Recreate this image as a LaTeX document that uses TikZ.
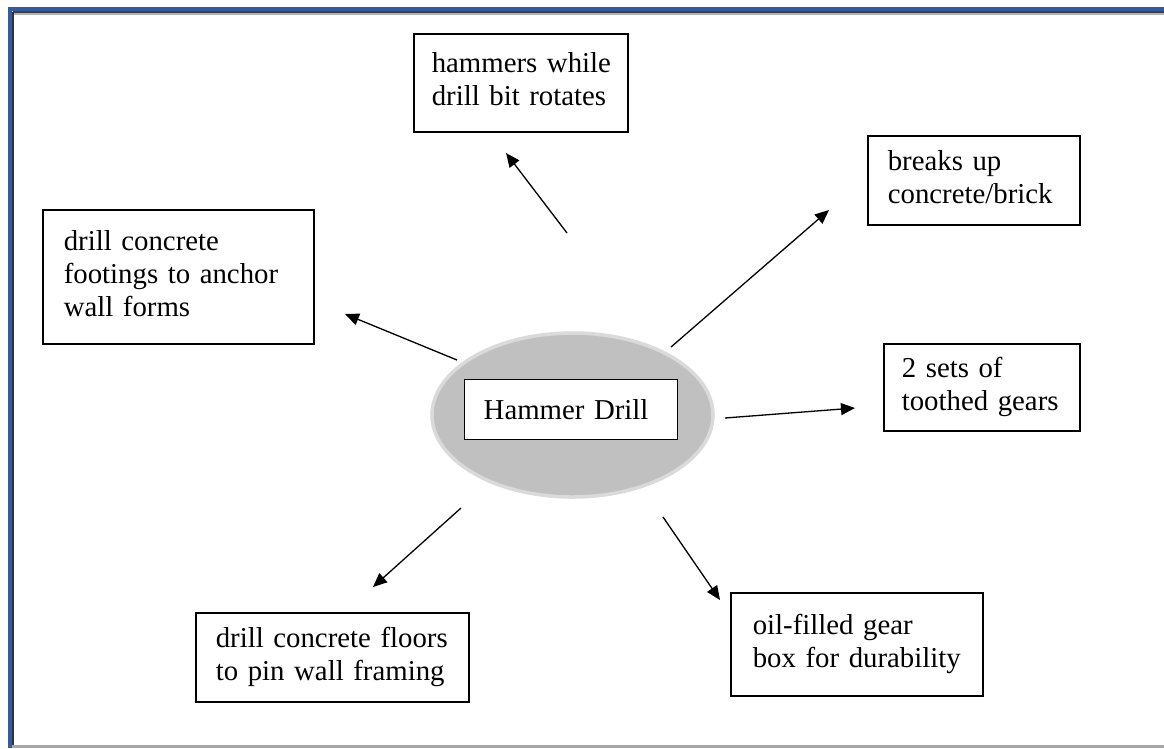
\documentclass[tikz,border=0pt]{standalone}
\usepackage{fontspec}
\setmainfont{Liberation Serif}
\usetikzlibrary{arrows.meta,shapes.geometric}
\definecolor{frameblue}{RGB}{54,90,160}
\definecolor{ellfill}{RGB}{192,192,192}
\definecolor{elledge}{RGB}{218,218,218}
\newcommand{\boxlines}[1]{\begin{tabular}{@{}l@{}}#1\end{tabular}}
\tikzset{
  txt/.style={font=\fontsize{28.8}{33}\selectfont},
  infobox/.style={draw=black, line width=1.6pt, rectangle, anchor=north west, align=left, inner ysep=0pt, txt},
  arr/.style={line width=1.3pt, -{Triangle[length=14pt,width=12pt]}}
}
\begin{document}
\begin{tikzpicture}[x=1pt,y=-1pt]
\useasboundingbox (0,0) rectangle (1164,748);
\fill[white] (0,0) rectangle (1164,748);
% frame
\draw[gray!60, line width=2pt] (13,14) -- (1164,14);
\draw[black!75, line width=2pt] (12.5,12) -- (1164,12);
\draw[black!80, line width=2pt] (12.5,12) -- (12.5,748);
\draw[frameblue, line width=4pt] (9.5,8.5) -- (1164,8.5);
\draw[frameblue, line width=4pt] (9.5,6.5) -- (9.5,748);
\draw[gray!70, line width=3pt] (12,746.5) -- (1164,746.5);
% central ellipse
\node[ellipse, fill=ellfill, draw=elledge, line width=3.5pt, minimum width=281pt, minimum height=164pt, inner sep=0pt] (ell) at (572.5,415) {};
\node[draw=black, fill=white, line width=1.4pt, anchor=north west, minimum width=213pt, minimum height=60pt, text width=175pt, inner xsep=19pt, inner ysep=0pt, align=left, txt] (hd) at (464,379) {Hammer Drill};
% boxes
\node[infobox, minimum height=98pt, text width=178pt, inner xsep=18pt] (top) at (413,33) {\boxlines{hammers while\\drill bit rotates}};
\node[infobox, minimum height=89pt, text width=172pt, inner xsep=20pt] (brk) at (867,135) {\boxlines{breaks up\\concrete/brick}};
\node[infobox, minimum height=134pt, text width=229pt, inner xsep=21pt] (ftg) at (42,209) {\boxlines{drill concrete\\footings to anchor\\wall forms}};
\node[infobox, minimum height=87pt, text width=160pt, inner xsep=18pt] (gear) at (883,343) {\boxlines{2 sets of\\toothed gears}};
\node[infobox, minimum height=89pt, text width=233pt, inner xsep=20pt] (flr) at (195,612) {\boxlines{drill concrete floors\\to pin wall framing}};
\node[infobox, minimum height=103pt, text width=208pt, inner xsep=22pt] (oil) at (730,592) {\boxlines{oil-filled gear\\box for durability}};
% arrow ends
\coordinate (s1) at (567,233); \coordinate (e1) at (506,153);
\coordinate (s2) at (671,347); \coordinate (e2) at (829,210);
\coordinate (s3) at (457,360); \coordinate (e3) at (345,314);
\coordinate (s4) at (725,418); \coordinate (e4) at (855,408);
\coordinate (s5) at (461,508); \coordinate (e5) at (373,587);
\coordinate (s6) at (663,517); \coordinate (e6) at (720,600);
\draw[arr] (s1) -- (e1);
\draw[arr] (s2) -- (e2);
\draw[arr] (s3) -- (e3);
\draw[arr] (s4) -- (e4);
\draw[arr] (s5) -- (e5);
\draw[arr] (s6) -- (e6);
\end{tikzpicture}
\end{document}
